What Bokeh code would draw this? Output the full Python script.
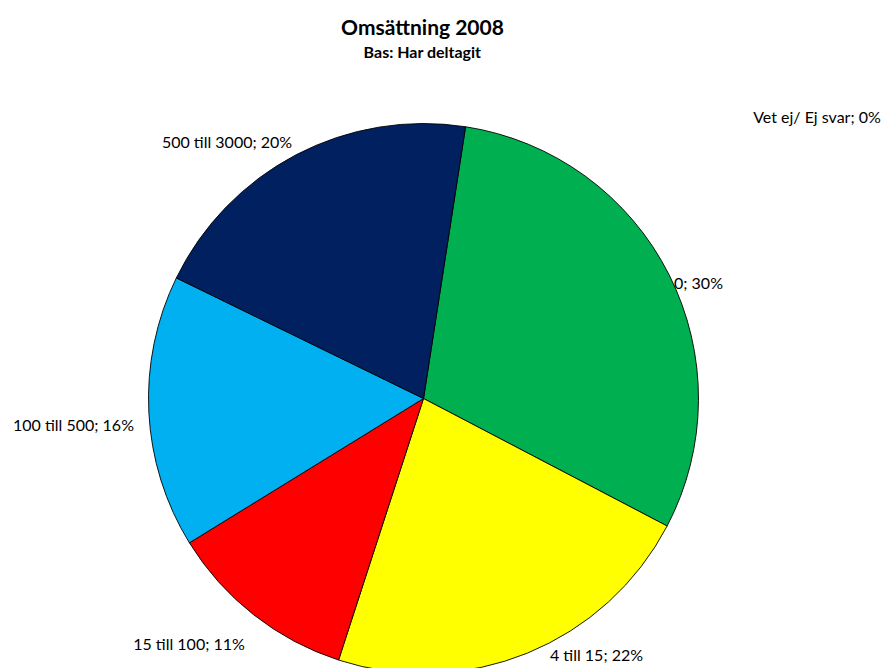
import numpy as np
from bokeh.plotting import figure
from bokeh.models import Range1d, ColumnDataSource
from bokeh.core.properties import value
from bokeh.embed import file_html
from bokeh.resources import INLINE

# Data
categories = ["0", "4 till 15", "15 till 100", "100 till 500", "500 till 3000", "Vet ej/ Ej svar"]
shares = [30.2, 22.3, 11.2, 16.0, 20.2, 0.0]
pct_labels = ["30%", "22%", "11%", "16%", "20%", "0%"]
colors = ["#00B050", "#FFFF00", "#FF0000", "#00B0F0", "#002060", "#7F7F7F"]

title = "Omsättning 2008"
subtitle = "Bas: Har deltagit"

# Layout (screen-pixel-like coordinates, y measured upward)
W, H = 885, 668
cx, cy, R = 423, H - 398, 275
first_slice_offset_deg = 8.8
label_centers = [(698, H - 282), (596, H - 654), (188.5, H - 643),
                 (73, H - 424), (226.5, H - 141), (816.5, H - 116)]

p = figure(width=W, height=H, output_backend="svg", toolbar_location=None,
           x_range=Range1d(0, W), y_range=Range1d(0, H),
           min_border=0)
p.axis.visible = False
p.grid.visible = False
p.outline_line_color = None

vals = np.array(shares, dtype=float)
frac = vals / vals.sum()
cum = np.concatenate([[0], np.cumsum(frac)]) * 360.0 + first_slice_offset_deg
start = np.deg2rad(90 - cum[:-1])
end = np.deg2rad(90 - cum[1:])
keep = vals > 0

src = ColumnDataSource(dict(start=start[keep], end=end[keep],
                            color=[c for c, k in zip(colors, keep) if k]))
p.wedge(x=cx, y=cy, radius=R, start_angle="start", end_angle="end", direction="clock",
        fill_color="color", line_color="black", line_width=0.9, source=src)

font = value("Lato")
for (lx, ly), cat, pl in zip(label_centers, categories, pct_labels):
    p.text(x=[lx], y=[ly], text=[f"{cat}; {pl}"], text_font=font, text_font_size="16px",
           text_align="center", text_baseline="middle", text_color="black")

p.text(x=[422], y=[H - 26], text=[title], text_font=font, text_font_size="21px",
       text_font_style="bold", text_align="center", text_baseline="middle")
p.text(x=[422], y=[H - 51], text=[subtitle], text_font=font, text_font_size="16px",
       text_font_style="bold", text_align="center", text_baseline="middle")

open("out.html", "w").write(file_html(p, INLINE))
